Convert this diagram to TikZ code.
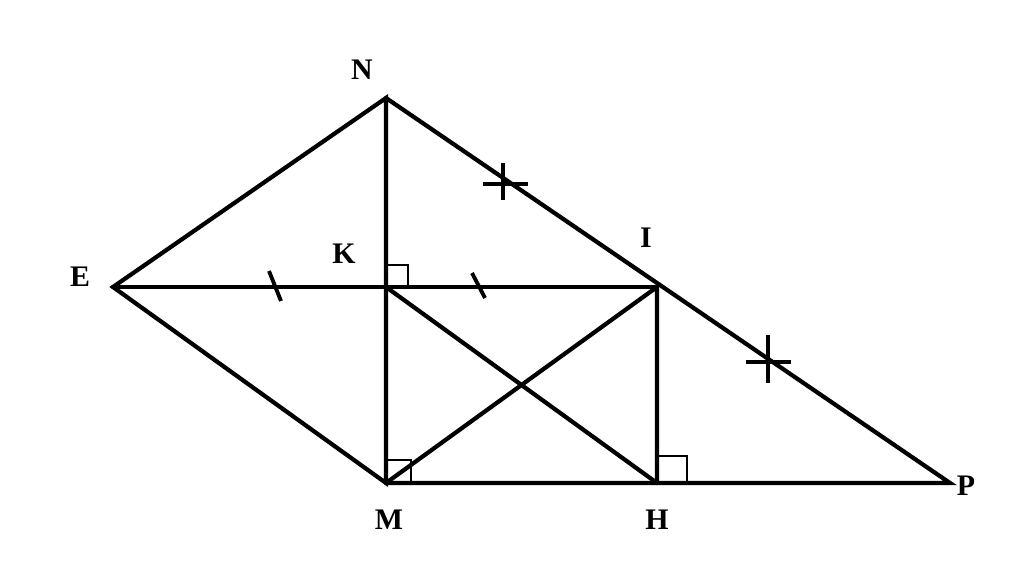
\documentclass[tikz,border=0pt]{standalone}
\usepackage{fontspec}
\setmainfont{Liberation Serif}
\begin{document}
\begin{tikzpicture}[x=0.02cm,y=-0.02cm,
  seg/.style={line width=2.4pt,line cap=round,line join=miter},
  tick/.style={line width=2.2pt},
  ra/.style={line width=0.8pt},
  lab/.style={font=\fontsize{17}{20}\selectfont\bfseries,inner sep=0pt}]
\useasboundingbox (0,0) rectangle (1024,585);
\coordinate (N) at (386,98);
\coordinate (E) at (113,287);
\coordinate (K) at (386,287);
\coordinate (I) at (657,287);
\coordinate (M) at (386,483);
\coordinate (H) at (657,483);
\coordinate (P) at (950,483);
% right angle marks
\draw[ra] (386,265) -- (408,265) -- (408,287);
\draw[ra] (386,460) -- (411,460) -- (411,483);
\draw[ra] (657,456) -- (687,456) -- (687,483);
% segments
\draw[seg] (E) -- (N) -- (M) -- cycle;
\draw[seg] (E) -- (I);
\draw[seg] (N) -- (P) -- (M);
\draw[seg] (K) -- (H);
\draw[seg] (M) -- (I) -- (H);
% ticks
\draw[tick] (269,271) -- (281,301);
\draw[tick] (472,273) -- (485,298);
\draw[tick] (483,184) -- (528,184);
\draw[tick] (503,163) -- (503,200);
\draw[tick] (746,362) -- (791,362);
\draw[tick] (768,335) -- (768,383);
% labels
\node[lab] (lN) at (362,70) {N};
\node[lab] (lE) at (80,277) {E};
\node[lab] (lK) at (344,254) {K};
\node[lab] (lI) at (646,238) {I};
\node[lab] (lM) at (389,520) {M};
\node[lab] (lH) at (657,520) {H};
\node[lab] (lP) at (966,486) {P};
\end{tikzpicture}
\end{document}
